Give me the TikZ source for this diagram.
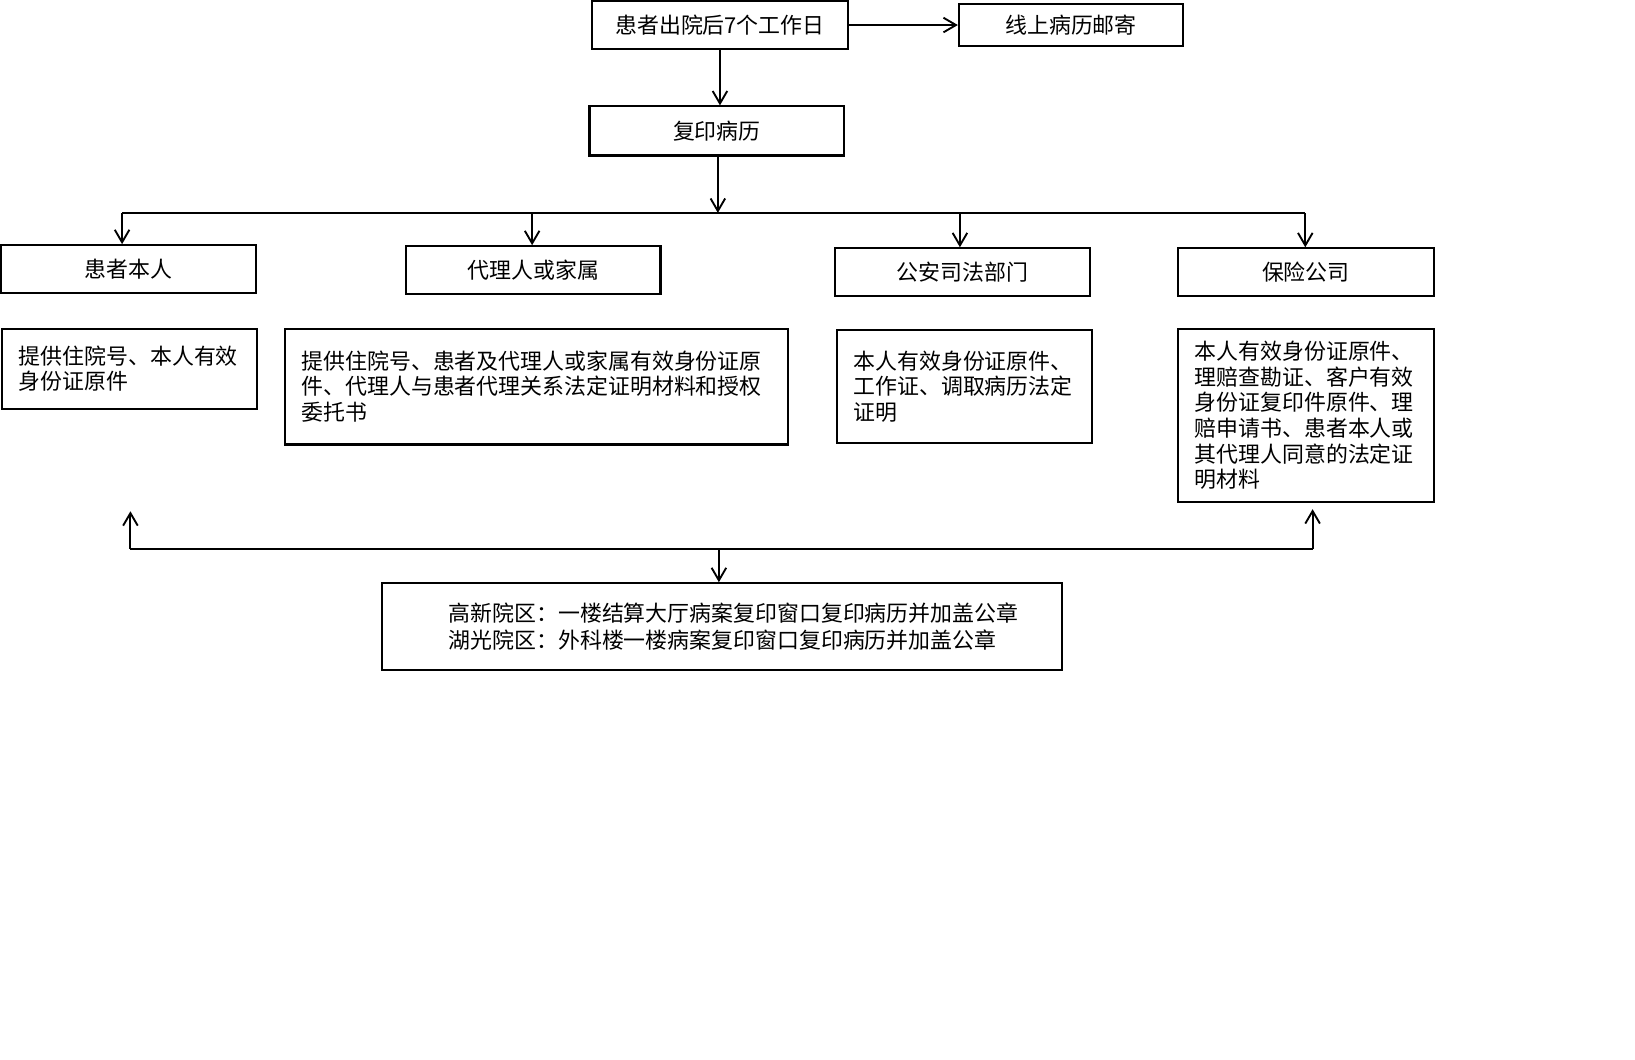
\documentclass[tikz,border=0pt]{standalone}
\usepackage{fontspec}
\setmainfont{Noto Sans CJK SC}
\usetikzlibrary{arrows.meta}
\tikzset{
  box/.style={draw, line width=1pt, inner sep=0pt, font=\fontsize{10.5pt}{12.3pt}\selectfont},
  doc/.style={box, inner xsep=8pt, align=left},
  arr/.style={line width=0.9pt, -{Straight Barb[length=6pt,width=7pt]}},
  link/.style={line width=0.9pt}
}
\begin{document}
\begin{tikzpicture}[x=0.5pt, y=-0.5pt]
                \useasboundingbox[fill=white] (0,0) rectangle (1567,1015);
                \node[box, minimum width=123pt, minimum height=23pt] (start) at (690,24) {患者出院后7个工作日};
                \node[box, minimum width=107.5pt, minimum height=20pt] (mail) at (1026.5,24) {线上病历邮寄};
                \node[box, minimum width=122pt, minimum height=23.5pt] (copy) at (687,125.5) {复印病历};
                \node[box, minimum width=122pt, minimum height=23pt] (self) at (123,258) {患者本人};
                \node[box, minimum width=122pt, minimum height=23pt] (agent) at (511,259) {代理人或家属};
                \node[box, minimum width=122.5pt, minimum height=23pt] (police) at (922.5,261) {公安司法部门};
                \node[box, minimum width=122.5pt, minimum height=23pt] (insure) at (1251.5,261) {保险公司};
                \node[doc, text width=106pt, minimum height=38.5pt] (selfdoc) at (124,353.5) {提供住院号、本人有效\\身份证原件};
                \node[doc, text width=225pt, minimum height=55.5pt] (agentdoc) at (514,370.5) {提供住院号、患者及代理人或家属有效身份证原\\件、代理人与患者代理关系法定证明材料和授权\\委托书};
                \node[doc, text width=106.5pt, minimum height=54.5pt] (policedoc) at (924.5,370.5) {本人有效身份证原件、\\工作证、调取病历法定\\证明};
                \node[doc, text width=106.5pt, minimum height=83pt] (insuredoc) at (1251.5,398) {本人有效身份证原件、\\理赔查勘证、客户有效\\身份证复印件原件、理\\赔申请书、患者本人或\\其代理人同意的法定证\\明材料};
                \node[box, minimum width=326pt, minimum height=41.5pt, inner xsep=32pt, text width=262pt, align=left, font=\fontsize{10.5pt}{13pt}\selectfont] (site) at (692,600.5) {高新院区：一楼结算大厅病案复印窗口复印病历并加盖公章\\湖光院区：外科楼一楼病案复印窗口复印病历并加盖公章};
                \draw[arr] (start.east) -- (mail.west);
                \draw[arr] (start.south) -- (start.south |- copy.north);
                \coordinate (split) at (688,204);
                \draw[arr] (copy.south -| split) -- (split);
                \foreach \x/\n in {117/self, 510/agent, 920/police, 1251/insure}{
                    \coordinate (b\n) at (\x,204);
                    \draw[arr] (b\n) -- (b\n |- \n.north);
                }
                \draw[link] (bself) -- (binsure);
                \coordinate (joinL) at (125,526);
                \coordinate (joinR) at (1258,526);
                \coordinate (joinM) at (689,526);
                \coordinate (upL) at (125,490);
                \coordinate (upR) at (1258,488);
                \draw[link] (joinL) -- (joinR);
                \draw[arr] (joinL) -- (upL);
                \draw[arr] (joinR) -- (upR);
                \draw[arr] (joinM) -- (joinM |- site.north);
\end{tikzpicture}
\end{document}
